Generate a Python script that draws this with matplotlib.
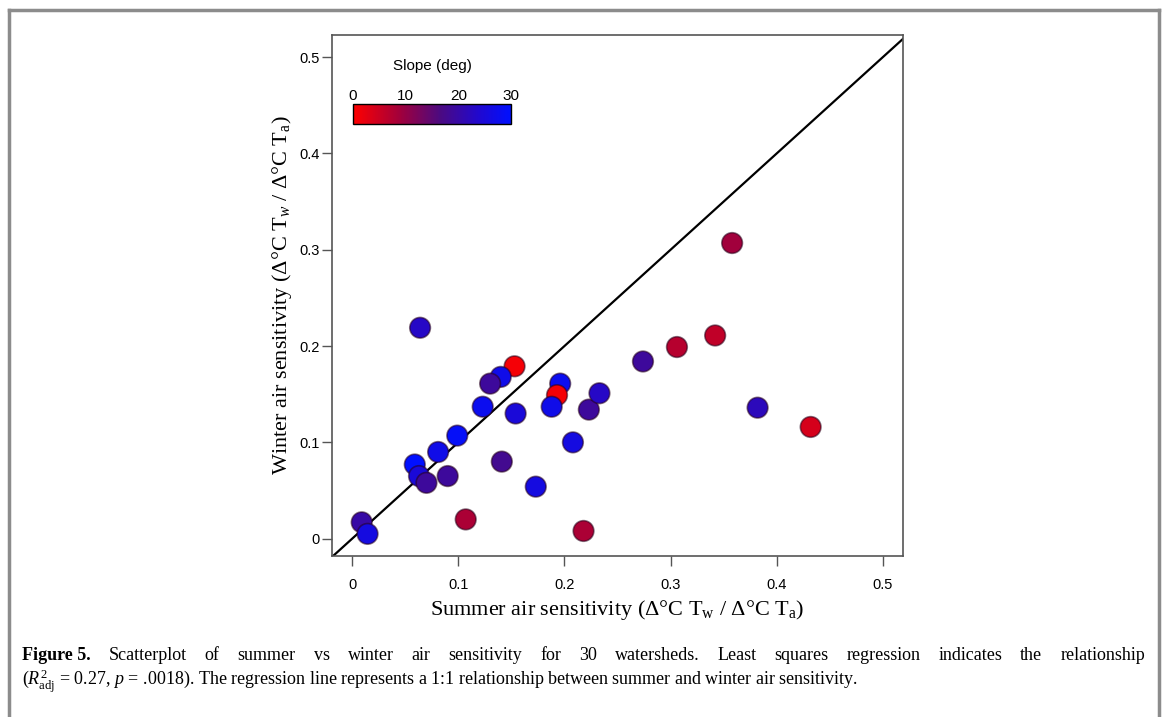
import matplotlib
matplotlib.use('Agg')
import matplotlib.pyplot as plt
import numpy as np
from matplotlib.colors import LinearSegmentedColormap
from matplotlib.lines import Line2D
from matplotlib.colorbar import ColorbarBase
from matplotlib.colors import Normalize

# データ
summer = [0.009, 0.0145, 0.064, 0.153, 0.140, 0.130, 0.123, 0.154, 0.099, 0.081,
          0.059, 0.063, 0.070, 0.090, 0.141, 0.107, 0.173, 0.196, 0.193, 0.188,
          0.208, 0.223, 0.233, 0.218, 0.274, 0.306, 0.342, 0.382, 0.432, 0.358]
winter = [0.017, 0.005, 0.219, 0.179, 0.168, 0.161, 0.137, 0.130, 0.107, 0.090,
          0.077, 0.065, 0.058, 0.065, 0.080, 0.020, 0.054, 0.161, 0.149, 0.137,
          0.100, 0.134, 0.151, 0.008, 0.184, 0.199, 0.211, 0.136, 0.116, 0.307]
slope = [20, 26, 23, 1, 27, 19, 28, 25, 29, 27,
         30, 25, 19, 19, 18, 8, 26, 28, 1, 27,
         26, 19, 23, 8, 19, 7, 6, 22, 4, 9]
tick_vals = [0, 0.1, 0.2, 0.3, 0.4, 0.5]
tick_labels = ['0', '0.1', '0.2', '0.3', '0.4', '0.5']
cbar_ticks = [0, 10, 20, 30]

plt.rcParams['mathtext.fontset'] = 'custom'
plt.rcParams['mathtext.rm'] = 'Liberation Serif'
plt.rcParams['mathtext.it'] = 'Liberation Serif:italic'
plt.rcParams['mathtext.bf'] = 'Liberation Serif:bold'

cmap = LinearSegmentedColormap.from_list('slope', [
    (0.0, '#ff0000'), (0.3, '#a0003c'), (0.55, '#4c0a80'),
    (0.8, '#2008d0'), (1.0, '#0010ff')])
norm = Normalize(0, 30)

fig = plt.figure(figsize=(11.67, 7.17), dpi=100)
W, H = 1167, 717

def fx(px):
    return px / W

def fy(py):
    return 1 - py / H

# 外枠
frame_kw = dict(color='#8c8c8c', lw=2.5, transform=fig.transFigure)
fig.add_artist(Line2D([fx(9), fx(9)], [fy(10), -0.05], **frame_kw))
fig.add_artist(Line2D([fx(9), fx(1159)], [fy(10), fy(10)], **frame_kw))
fig.add_artist(Line2D([fx(1159), fx(1159)], [fy(10), -0.05], **frame_kw))

# 散布図
ax = fig.add_axes([fx(332), fy(556), fx(903) - fx(332), fy(35) - fy(556)])
ax.set_xlim(-0.019, 0.519)
ax.set_ylim(-0.018, 0.523)
ax.axline((0, 0), slope=1, color='black', lw=1.6, zorder=1)
ax.scatter(summer, winter, c=slope, cmap=cmap, norm=norm, s=220,
           edgecolors=(0.15, 0, 0.1, 0.55), linewidths=1.2, zorder=2)

ax.set_xticks(tick_vals)
ax.set_xticklabels(tick_labels)
ax.set_yticks(tick_vals)
ax.set_yticklabels(tick_labels)
ax.tick_params(direction='out', length=7, width=1, color='#555555', labelsize=10.5)
ax.tick_params(axis='x', pad=9)
ax.tick_params(axis='y', pad=2)
for lab in ax.get_xticklabels() + ax.get_yticklabels():
    lab.set_family('Liberation Sans')
for sp in ax.spines.values():
    sp.set_color('#555555')
    sp.set_linewidth(1.2)

ax.set_xlabel(r'Summer air sensitivity ($\Delta$°C T$_\mathrm{w}$ / $\Delta$°C T$_\mathrm{a}$)',
              family='Liberation Serif', fontsize=16)
ax.set_ylabel(r'Winter air sensitivity ($\Delta$°C T$_\mathit{w}$ / $\Delta$°C T$_\mathrm{a}$)',
              family='Liberation Serif', fontsize=16)
ax.xaxis.set_label_coords(0.5, (556 - 598) / 521)
ax.yaxis.set_label_coords((294 - 332) / 571, 0.5)

# カラーバー
cax = fig.add_axes([fx(353), fy(124), fx(511) - fx(353), fy(104) - fy(124)])
cb = ColorbarBase(cax, cmap=cmap, norm=norm, orientation='horizontal')
cb.set_ticks(cbar_ticks)
cax.xaxis.set_ticks_position('top')
cax.tick_params(length=0, labelsize=11, pad=1)
for lab in cax.get_xticklabels():
    lab.set_family('Liberation Sans')
cb.outline.set_linewidth(1)
fig.text(fx(432), fy(66), 'Slope (deg)', family='Liberation Sans', fontsize=11,
         ha='center', va='center')

# キャプション（1行目は両端揃え）
fig.canvas.draw()
renderer = fig.canvas.get_renderer()
cap_size = 13
t1 = fig.text(fx(22), fy(655), 'Figure 5.', family='Liberation Serif', fontsize=cap_size,
              fontweight='bold', ha='left', va='center')
words = ('Scatterplot of summer vs winter air sensitivity for 30 watersheds. '
         'Least squares regression indicates the relationship').split()
word_texts = [fig.text(0, fy(655), w, family='Liberation Serif', fontsize=cap_size,
                       ha='left', va='center') for w in words]
x0 = t1.get_window_extent(renderer).x1
widths = [t.get_window_extent(renderer).width for t in word_texts]
x_end = 1145
gap = (x_end - x0 - sum(widths)) / len(words)
x = x0 + gap
for t, w in zip(word_texts, widths):
    t.set_x(x / W)
    x += w + gap
fig.text(fx(22), fy(681),
         r'($R^2_{\mathrm{adj}}$ = 0.27, $p$ = .0018). The regression line represents '
         'a 1:1 relationship between summer and winter air sensitivity.',
         family='Liberation Serif', fontsize=cap_size, ha='left', va='center')

plt.savefig('out.png', dpi=100)
plt.close()
